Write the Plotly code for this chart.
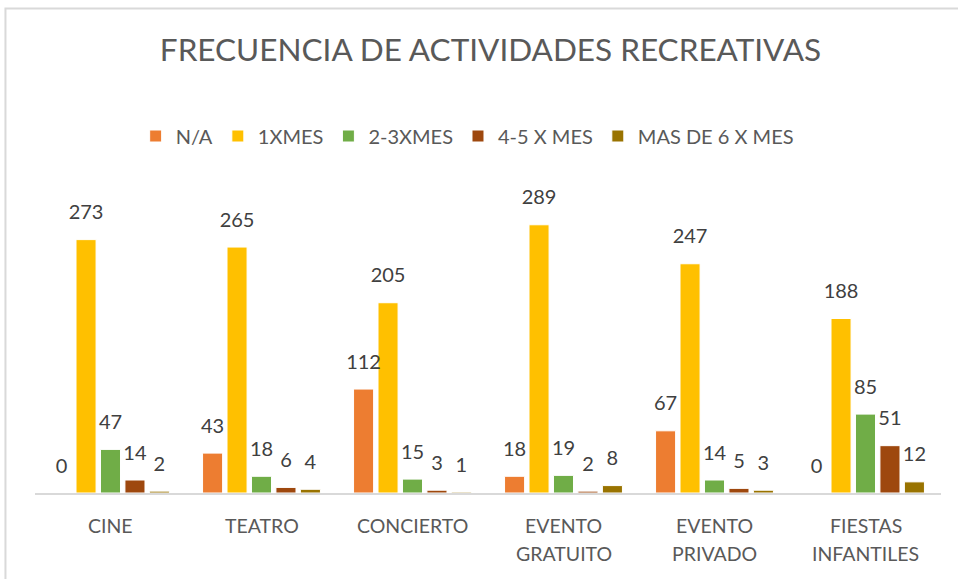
import plotly.graph_objects as go

categories = ["CINE", "TEATRO", "CONCIERTO", "EVENTO<br>GRATUITO", "EVENTO<br>PRIVADO", "FIESTAS<br>INFANTILES"]
series_names = ["N/A", "1XMES", "2-3XMES", "4-5 X MES", "MAS DE 6 X MES"]
na_vals = [0, 43, 112, 18, 67, 0]
x1_vals = [273, 265, 205, 289, 247, 188]
x23_vals = [47, 18, 15, 19, 14, 85]
x45_vals = [14, 6, 3, 2, 5, 51]
x6_vals = [2, 4, 1, 8, 3, 12]
colors = ["#ED7D31", "#FFC000", "#70AD47", "#9E480E", "#997300"]

FONT = "Lato, Open Sans, sans-serif"
all_vals = [na_vals, x1_vals, x23_vals, x45_vals, x6_vals]

fig = go.Figure()
for name, vals, col in zip(series_names, all_vals, colors):
    fig.add_trace(go.Bar(
        x=categories, y=vals, name=name,
        marker=dict(color=col, line=dict(color="white", width=1)),
        offsetgroup=name,
    ))
# data labels as grouped text-scatter, aligned with bars
for name, vals in zip(series_names, all_vals):
    fig.add_trace(go.Scatter(
        x=categories, y=vals, mode="markers+text", showlegend=False,
        text=[str(v) for v in vals], textposition="top center",
        textfont=dict(size=20, color="#404040", family=FONT),
        marker=dict(size=23, opacity=0), offsetgroup=name,
        cliponaxis=False, hoverinfo="skip",
    ))

fig.update_layout(
    width=958, height=579,
    margin=dict(l=35, r=17, t=196, b=86, autoexpand=False),
    paper_bgcolor="white", plot_bgcolor="white",
    font=dict(family=FONT, color="#595959"),
    barmode="group", bargap=0.19, bargroupgap=0.18,
    scattermode="group", scattergap=0.19,
    title=dict(text="FRECUENCIA DE ACTIVIDADES RECREATIVAS", x=0.512, xanchor="center",
               y=0.913, yanchor="middle", font=dict(size=31.5, color="#595959")),
    legend=dict(orientation="h", x=0.477, xanchor="center", y=1.202, yanchor="middle",
                font=dict(size=20, color="#595959"), itemwidth=30, traceorder="normal"),
    showlegend=True,
)
fig.update_xaxes(showline=True, linecolor="#D9D9D9", linewidth=1.5, ticks="",
                 showticklabels=False, showgrid=False, automargin=False)
fig.update_yaxes(range=[0, 320], visible=False, showgrid=False, zeroline=False, automargin=False)

for cat in categories:
    for i, line in enumerate(cat.split("<br>")):
        fig.add_annotation(x=cat, y=0, xref="x", yref="paper", text=line, showarrow=False,
                           yanchor="middle", yshift=-32 - 28 * i,
                           font=dict(size=19.5, color="#595959", family=FONT))

fig.add_shape(type="rect", xref="paper", yref="paper",
              x0=-0.0326, x1=1.05, y0=-0.4, y1=1.631,
              line=dict(color="#D9D9D9", width=2), fillcolor="rgba(0,0,0,0)", layer="below")

fig.write_html("out.html", post_script="document.body.style.margin='0';",
               config={"displayModeBar": False})
